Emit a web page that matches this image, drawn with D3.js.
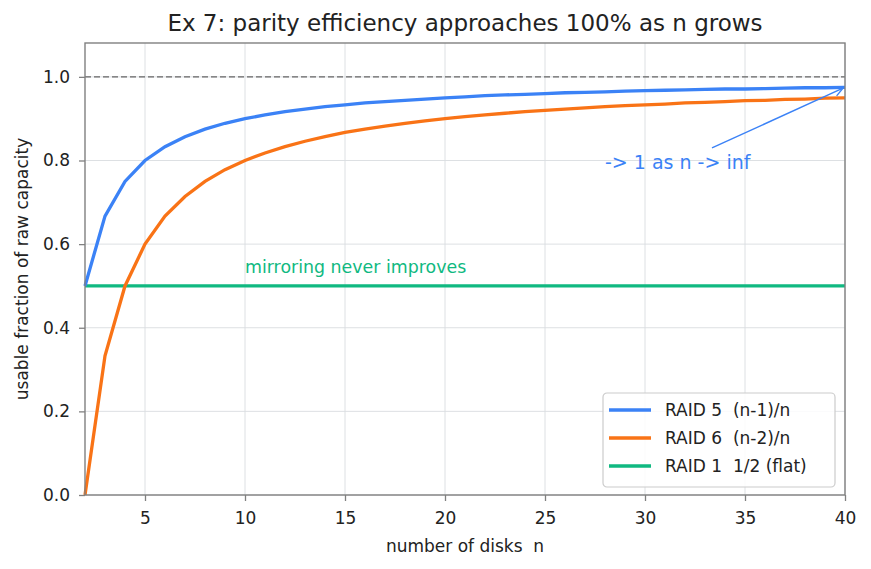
<!DOCTYPE html>
<html>
<head>
<meta charset="utf-8">
<script src="https://cdn.jsdelivr.net/npm/d3@7"></script>
<style>
  body { margin: 0; background: #fff; }
  svg text { font-family: "DejaVu Sans", sans-serif; fill: #222; white-space: pre; }
  .axis line { stroke: #808080; stroke-width: 1.3; }
  .axis text { font-size: 17px; fill: #222; }
</style>
</head>
<body>
<div id="vis"></div>
<script>
// number of disks n = 2..40
var disks = [2, 3, 4, 5, 6, 7, 8, 9, 10, 11, 12, 13, 14, 15, 16, 17, 18, 19, 20,
  21, 22, 23, 24, 25, 26, 27, 28, 29, 30, 31, 32, 33, 34, 35, 36, 37, 38, 39, 40];

// RAID 5 usable fraction
var raid5 = [0.500, 0.667, 0.750, 0.800, 0.833, 0.857, 0.875, 0.889, 0.900, 0.909,
  0.917, 0.923, 0.929, 0.933, 0.938, 0.941, 0.944, 0.947, 0.950, 0.952, 0.955,
  0.957, 0.958, 0.960, 0.962, 0.963, 0.964, 0.966, 0.967, 0.968, 0.969, 0.970,
  0.971, 0.971, 0.972, 0.973, 0.974, 0.974, 0.975];

// RAID 6 usable fraction
var raid6 = [0.000, 0.333, 0.500, 0.600, 0.667, 0.714, 0.750, 0.778, 0.800, 0.818,
  0.833, 0.846, 0.857, 0.867, 0.875, 0.882, 0.889, 0.895, 0.900, 0.905, 0.909,
  0.913, 0.917, 0.920, 0.923, 0.926, 0.929, 0.931, 0.933, 0.935, 0.938, 0.939,
  0.941, 0.943, 0.944, 0.946, 0.947, 0.949, 0.950];

// RAID 1 mirroring stays flat
var raid1 = [0.5, 0.5, 0.5, 0.5, 0.5, 0.5, 0.5, 0.5, 0.5, 0.5, 0.5, 0.5, 0.5,
  0.5, 0.5, 0.5, 0.5, 0.5, 0.5, 0.5, 0.5, 0.5, 0.5, 0.5, 0.5, 0.5, 0.5, 0.5,
  0.5, 0.5, 0.5, 0.5, 0.5, 0.5, 0.5, 0.5, 0.5, 0.5, 0.5];

var xTicks = [5, 10, 15, 20, 25, 30, 35, 40];
var yTicks = [0.0, 0.2, 0.4, 0.6, 0.8, 1.0];

var series = [
  { name: 'RAID 5  (n-1)/n', values: raid5, color: '#3b82f6' },
  { name: 'RAID 6  (n-2)/n', values: raid6, color: '#f97316' },
  { name: 'RAID 1  1/2 (flat)', values: raid1, color: '#10b981' }
];

var width = 871, height = 569;
var margin = { left: 85, right: 26, top: 43, bottom: 74 };
var drawWidth = width - margin.left - margin.right;
var drawHeight = height - margin.top - margin.bottom;

var svg = d3.select('#vis').append('svg')
  .attr('width', width)
  .attr('height', height);

var g = svg.append('g')
  .attr('transform', 'translate(' + margin.left + ',' + margin.top + ')');

var xScale = d3.scaleLinear().domain([2, 40]).range([0, drawWidth]);
var yScale = d3.scaleLinear().domain([0, 1.081]).range([drawHeight, 0]);

// grid
g.selectAll('.vgrid').data(xTicks).enter().append('line')
  .attr('x1', d => xScale(d)).attr('x2', d => xScale(d))
  .attr('y1', 0).attr('y2', drawHeight)
  .attr('stroke', '#d9dce0').attr('stroke-width', 0.9);
g.selectAll('.hgrid').data(yTicks).enter().append('line')
  .attr('x1', 0).attr('x2', drawWidth)
  .attr('y1', d => yScale(d)).attr('y2', d => yScale(d))
  .attr('stroke', '#d9dce0').attr('stroke-width', 0.9);

// reference line at 1.0
g.append('line')
  .attr('x1', 0).attr('x2', drawWidth)
  .attr('y1', yScale(1)).attr('y2', yScale(1))
  .attr('stroke', '#666').attr('stroke-width', 1.4)
  .attr('stroke-dasharray', '6,3');

// lines
var line = d3.line()
  .x((d, i) => xScale(disks[i]))
  .y(d => yScale(d));

// draw RAID 1 first, then 6, then 5 on top
[series[2], series[1], series[0]].forEach(function(s) {
  g.append('path')
    .datum(s.values)
    .attr('fill', 'none')
    .attr('stroke', s.color)
    .attr('stroke-width', 3.3)
    .attr('d', line);
});

// annotations
g.append('text')
  .attr('x', xScale(10)).attr('y', yScale(0.53))
  .attr('font-size', 17.4)
  .style('fill', '#10b981')
  .text('mirroring never improves');

g.append('text')
  .attr('x', xScale(28)).attr('y', yScale(0.78))
  .attr('font-size', 19)
  .style('fill', '#3b82f6')
  .text('-> 1 as n -> inf');

var ax0 = xScale(33.35), ay0 = yScale(0.83);
var ax1 = xScale(39.9), ay1 = yScale(0.973);
g.append('line')
  .attr('x1', ax0).attr('y1', ay0).attr('x2', ax1).attr('y2', ay1)
  .attr('stroke', '#3b82f6').attr('stroke-width', 1.4);
var ang = Math.atan2(ay1 - ay0, ax1 - ax0);
var hl = 10;
g.append('path')
  .attr('d', 'M' + (ax1 - hl * Math.cos(ang - 0.45)) + ',' + (ay1 - hl * Math.sin(ang - 0.45)) +
    'L' + ax1 + ',' + ay1 +
    'L' + (ax1 - hl * Math.cos(ang + 0.45)) + ',' + (ay1 - hl * Math.sin(ang + 0.45)))
  .attr('fill', 'none')
  .attr('stroke', '#3b82f6').attr('stroke-width', 1.4);

// frame
g.append('rect')
  .attr('x', 0).attr('y', 0)
  .attr('width', drawWidth).attr('height', drawHeight)
  .attr('fill', 'none').attr('stroke', '#808080').attr('stroke-width', 1.4);

// axes
var xAxis = d3.axisBottom(xScale).tickValues(xTicks).tickSize(6).tickPadding(11);
var yAxis = d3.axisLeft(yScale).tickValues(yTicks).tickSize(6).tickPadding(9)
  .tickFormat(d3.format('.1f'));

g.append('g').attr('class', 'axis')
  .attr('transform', 'translate(0,' + drawHeight + ')')
  .call(xAxis)
  .call(a => a.select('.domain').remove());
g.append('g').attr('class', 'axis')
  .call(yAxis)
  .call(a => a.select('.domain').remove());

// titles
svg.append('text')
  .attr('x', margin.left + drawWidth / 2).attr('y', 31)
  .attr('text-anchor', 'middle')
  .attr('font-size', 23)
  .text('Ex 7: parity efficiency approaches 100% as n grows');

svg.append('text')
  .attr('x', margin.left + drawWidth / 2).attr('y', 552)
  .attr('text-anchor', 'middle')
  .attr('font-size', 17)
  .text('number of disks  n');

svg.append('text')
  .attr('transform', 'translate(28,' + (margin.top + drawHeight / 2) + ') rotate(-90)')
  .attr('text-anchor', 'middle')
  .attr('font-size', 17)
  .text('usable fraction of raw capacity');

// legend
var legend = g.append('g')
  .attr('transform', 'translate(' + (603 - margin.left) + ',' + (393 - margin.top) + ')');
legend.append('rect')
  .attr('width', 232).attr('height', 94)
  .attr('rx', 4)
  .attr('fill', 'white').attr('fill-opacity', 0.85)
  .attr('stroke', '#cccccc').attr('stroke-width', 1.2);
series.forEach(function(s, i) {
  var y = 17 + i * 28;
  legend.append('line')
    .attr('x1', 6).attr('x2', 48)
    .attr('y1', y).attr('y2', y)
    .attr('stroke', s.color).attr('stroke-width', 3.3);
  legend.append('text')
    .attr('x', 62).attr('y', y + 6)
    .attr('font-size', 17)
    .text(s.name);
});
</script>
</body>
</html>
